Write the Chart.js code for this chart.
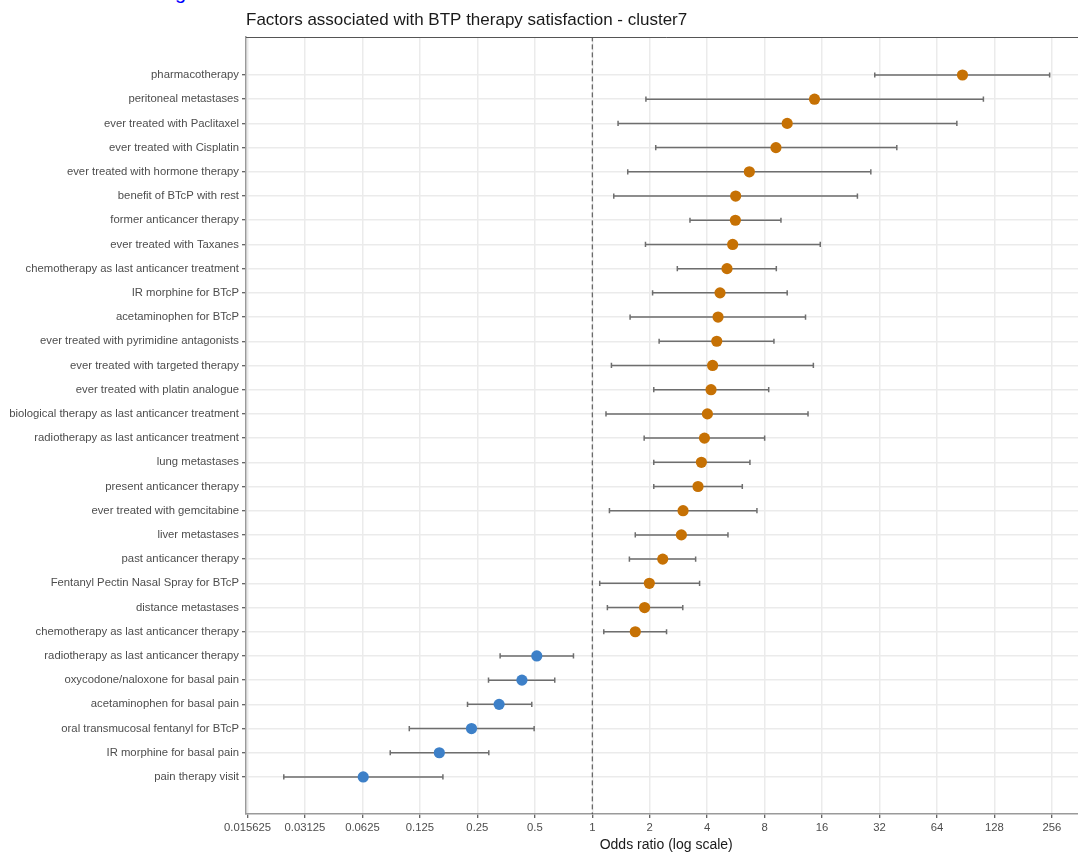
<!DOCTYPE html>
<html>
<head>
<meta charset="utf-8">
<script src="https://cdn.jsdelivr.net/npm/chart.js@4/dist/chart.umd.min.js"></script>
<style>
  html, body { margin: 0; padding: 0; background: #ffffff; overflow: hidden; width: 1078px; height: 852px; }
  #wrap { position: relative; width: 1078px; height: 852px; overflow: hidden; }
  #c { position: absolute; left: 0; top: 0; }
  #cut { position: absolute; left: 175px; top: -18.4px; font-family: "Liberation Sans", Arial, sans-serif; font-size: 20px; line-height: 20px; color: #0000ff; white-space: nowrap; }
</style>
</head>
<body>
<div id="wrap">
  <div id="cut">g</div>
  <canvas id="c" width="1092" height="852" style="width:1092px;height:852px"></canvas>
</div>
<script>
// ---- data (top to bottom as displayed) ----
const categories = [
  'pharmacotherapy',
  'peritoneal metastases',
  'ever treated with Paclitaxel',
  'ever treated with Cisplatin',
  'ever treated with hormone therapy',
  'benefit of BTcP with rest',
  'former anticancer therapy',
  'ever treated with Taxanes',
  'chemotherapy as last anticancer treatment',
  'IR morphine for BTcP',
  'acetaminophen for BTcP',
  'ever treated with pyrimidine antagonists',
  'ever treated with targeted therapy',
  'ever treated with platin analogue',
  'biological therapy as last anticancer treatment',
  'radiotherapy as last anticancer treatment',
  'lung metastases',
  'present anticancer therapy',
  'ever treated with gemcitabine',
  'liver metastases',
  'past anticancer therapy',
  'Fentanyl Pectin Nasal Spray for BTcP',
  'distance metastases',
  'chemotherapy as last anticancer therapy',
  'radiotherapy as last anticancer therapy',
  'oxycodone/naloxone for basal pain',
  'acetaminophen for basal pain',
  'oral transmucosal fentanyl for BTcP',
  'IR morphine for basal pain',
  'pain therapy visit'
];
const oddsRatio = [87.0, 14.6, 10.5, 9.17, 6.65, 5.64, 5.62, 5.44, 5.08, 4.67, 4.56, 4.49, 4.27, 4.19, 4.01, 3.87, 3.73, 3.58, 2.99, 2.93, 2.34, 1.99, 1.88, 1.68, 0.512, 0.428, 0.325, 0.233, 0.158, 0.0631];
const lowerCI  = [30.2, 1.91, 1.365, 2.15, 1.534, 1.296, 3.25, 1.90, 2.79, 2.07, 1.578, 2.24, 1.26, 2.10, 1.18, 1.87, 2.10, 2.10, 1.23, 1.68, 1.565, 1.094, 1.20, 1.149, 0.329, 0.286, 0.222, 0.110, 0.0874, 0.0242];
const upperCI  = [249, 112, 81.3, 39.4, 28.8, 24.5, 9.74, 15.65, 9.21, 10.5, 13.1, 8.95, 14.4, 8.40, 13.5, 8.0, 6.70, 6.11, 7.29, 5.14, 3.48, 3.65, 2.98, 2.45, 0.797, 0.636, 0.482, 0.496, 0.287, 0.165];
const xTickValues = [0.015625, 0.03125, 0.0625, 0.125, 0.25, 0.5, 1, 2, 4, 8, 16, 32, 64, 128, 256];
const xTickLabels = ['0.015625', '0.03125', '0.0625', '0.125', '0.25', '0.5', '1', '2', '4', '8', '16', '32', '64', '128', '256'];
const referenceOR = 1;

// ---- styling ----
const ORANGE = '#c67104';
const BLUE = '#3d80c8';
const N = categories.length;
const rowY = i => N - 1 - i;

const pointData = oddsRatio.map((v, i) => ({ x: v, y: rowY(i) }));
const pointColors = oddsRatio.map(v => v > referenceOR ? ORANGE : BLUE);

const barData = [];
lowerCI.forEach((lo, i) => {
  barData.push({ x: lo, y: rowY(i) });
  barData.push({ x: upperCI[i], y: rowY(i) });
  barData.push({ x: lo, y: null });
});

const topBorder = {
  id: 'topBorder',
  afterDraw(chart) {
    const { ctx, chartArea } = chart;
    ctx.save();
    ctx.strokeStyle = '#555555';
    ctx.lineWidth = 1;
    ctx.beginPath();
    ctx.moveTo(chartArea.left, chartArea.top + 0.5);
    ctx.lineTo(chartArea.right, chartArea.top + 0.5);
    ctx.stroke();
    ctx.restore();
  }
};

const FONT = '"Liberation Sans", Arial, Helvetica, sans-serif';

new Chart(document.getElementById('c'), {
  type: 'scatter',
  data: {
    datasets: [
      {
        label: 'OR',
        data: pointData,
        backgroundColor: pointColors,
        borderWidth: 0,
        pointRadius: 5.6,
        pointHoverRadius: 5.6,
        order: 0
      },
      {
        label: 'CI',
        data: barData,
        showLine: true,
        spanGaps: false,
        borderColor: '#6e6e6e',
        borderWidth: 1.5,
        pointStyle: 'line',
        rotation: 90,
        pointRadius: 2.6,
        pointBorderColor: '#6e6e6e',
        pointBorderWidth: 1.5,
        order: 1
      },
      {
        label: 'ref',
        data: [{ x: referenceOR, y: -2 }, { x: referenceOR, y: N + 2 }],
        showLine: true,
        borderColor: '#444444',
        borderWidth: 1,
        borderDash: [5, 3],
        pointRadius: 0,
        order: 2
      }
    ]
  },
  options: {
    responsive: false,
    devicePixelRatio: 1,
    animation: false,
    layout: { padding: { left: 0, right: 5, top: 0, bottom: 0 } },
    plugins: {
      legend: { display: false },
      tooltip: { enabled: false },
      title: {
        display: true,
        text: 'Factors associated with BTP therapy satisfaction - cluster7',
        align: 'start',
        fullSize: false,
        color: '#1a1a1a',
        font: { family: FONT, size: 17, weight: 'normal', lineHeight: 1.2 },
        padding: { top: 10, bottom: 6.6 }
      }
    },
    scales: {
      x: {
        type: 'logarithmic',
        bounds: 'data',
        min: 0.01534,
        max: 388,
        afterBuildTicks: s => { s.ticks = xTickValues.map(v => ({ value: v })); },
        afterFit: s => { s.height = 38; },
        ticks: {
          autoSkip: false,
          maxRotation: 0,
          padding: 3,
          color: '#4d4d4d',
          font: { family: FONT, size: 11.3 },
          callback: (v, idx) => xTickLabels[idx]
        },
        grid: {
          color: '#ebebeb',
          lineWidth: 1.5,
          tickLength: 4,
          tickColor: '#333333',
          tickWidth: 1
        },
        border: { display: true, color: '#9a9a9a', width: 1.5 },
        title: {
          display: true,
          text: 'Odds ratio (log scale)',
          color: '#1a1a1a',
          font: { family: FONT, size: 14, lineHeight: 1 },
          padding: { top: 0, bottom: 0 }
        }
      },
      y: {
        type: 'linear',
        bounds: 'data',
        min: -1.53,
        max: N - 1 + 1.57,
        afterBuildTicks: s => { s.ticks = categories.map((c, i) => ({ value: rowY(i) })); },
        afterFit: s => { s.width = 246; },
        ticks: {
          autoSkip: false,
          padding: 3,
          color: '#4d4d4d',
          font: { family: FONT, size: 11.3 },
          callback: v => categories[N - 1 - v]
        },
        grid: {
          color: '#ebebeb',
          lineWidth: 1.5,
          tickLength: 4,
          tickColor: '#333333',
          tickWidth: 1
        },
        border: { display: true, color: '#9a9a9a', width: 1.5 }
      }
    }
  },
  plugins: [topBorder]
});
</script>
</body>
</html>
